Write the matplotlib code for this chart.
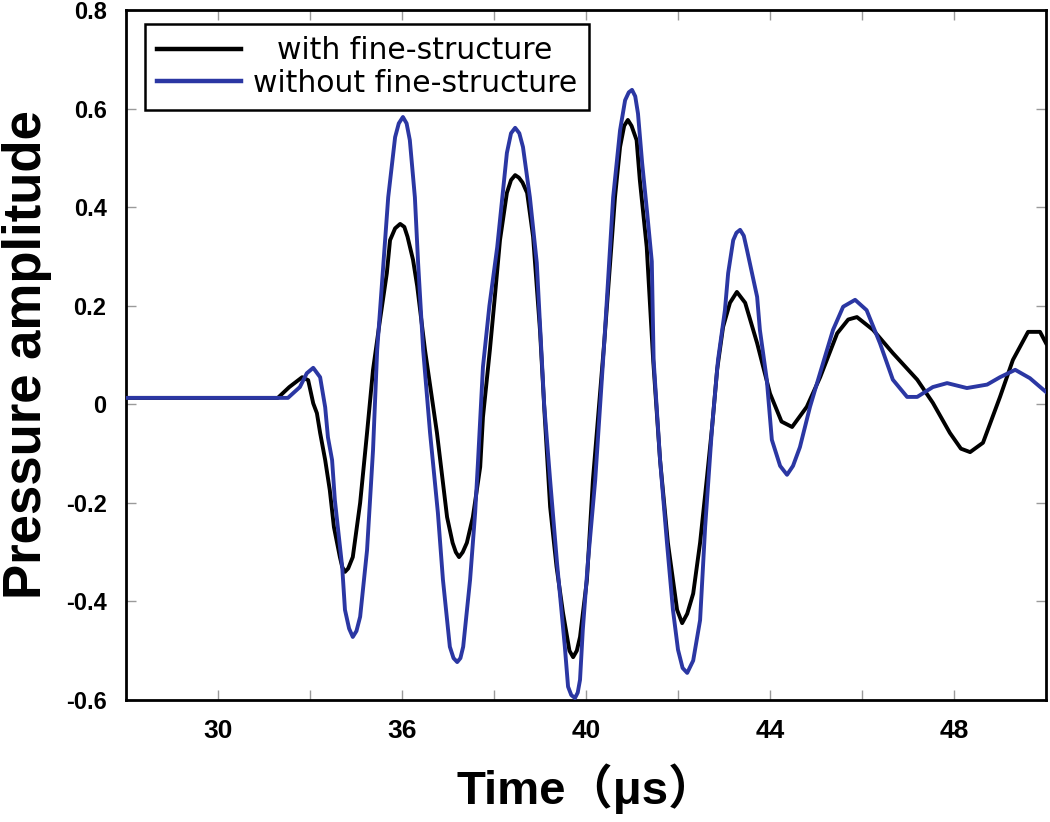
import matplotlib
matplotlib.use("Agg")
import matplotlib.pyplot as plt

# ---- data ----
t_with = [30.0, 33.3, 33.55, 33.83, 33.96, 34.07, 34.15, 34.22, 34.33, 34.43, 34.52, 34.65, 34.7,
          34.76, 34.83, 34.93, 35.09, 35.24, 35.37, 35.52, 35.67, 35.74, 35.85, 35.96, 36.05,
          36.12, 36.24, 36.33, 36.5, 36.76, 36.98, 37.1, 37.17, 37.24, 37.32, 37.41, 37.54, 37.7,
          37.76, 37.91, 38.02, 38.13, 38.28, 38.37, 38.46, 38.54, 38.62, 38.72, 38.85, 39.0,
          39.1, 39.22, 39.36, 39.5, 39.64, 39.72, 39.8, 39.87, 40.02, 40.15, 40.4, 40.63, 40.74,
          40.83, 40.91, 40.99, 41.1, 41.17, 41.32, 41.46, 41.61, 41.78, 41.98, 42.09, 42.2,
          42.33, 42.48, 42.63, 42.74, 42.85, 42.98, 43.13, 43.28, 43.46, 43.72, 44.0, 44.25,
          44.48, 44.8, 45.09, 45.46, 45.7, 45.89, 46.24, 46.67, 47.2, 47.54, 47.91, 48.15,
          48.35, 48.63, 49.0, 49.28, 49.61, 49.87, 50.0]
p_with = [0.013, 0.013, 0.035, 0.055, 0.049, 0.002, -0.018, -0.058, -0.113, -0.174, -0.249, -0.31, -0.33,
          -0.34, -0.333, -0.31, -0.2, -0.058, 0.07, 0.17, 0.266, 0.333, 0.357, 0.366, 0.36,
          0.34, 0.293, 0.24, 0.11, -0.058, -0.229, -0.281, -0.30, -0.31, -0.30, -0.281, -0.229, -0.127,
          -0.026, 0.11, 0.22, 0.333, 0.429, 0.455, 0.465, 0.46, 0.45, 0.429, 0.34, 0.15,
          -0.02, -0.208, -0.33, -0.423, -0.5, -0.513, -0.5, -0.472, -0.356, -0.154, 0.13, 0.42, 0.522,
          0.565, 0.577, 0.565, 0.536, 0.455, 0.319, 0.09, -0.113, -0.281, -0.417, -0.444, -0.425,
          -0.384, -0.281, -0.148, -0.047, 0.07, 0.157, 0.206, 0.228, 0.206, 0.124, 0.022, -0.035,
          -0.046, -0.005, 0.055, 0.144, 0.172, 0.177, 0.151, 0.104, 0.05, 0.003, -0.058, -0.09,
          -0.097, -0.078, 0.015, 0.09, 0.147, 0.147, 0.124]

t_without = [30.0, 33.52, 33.78, 33.93, 34.07, 34.22, 34.33, 34.39, 34.48, 34.54, 34.7, 34.76,
             34.85, 34.93, 35.01, 35.09, 35.24, 35.37, 35.46, 35.7, 35.85, 35.93, 36.02, 36.1,
             36.17, 36.28, 36.35, 36.46, 36.61, 36.78, 36.89, 37.04, 37.12, 37.2, 37.27, 37.33,
             37.48, 37.59, 37.65, 37.76, 37.9, 38.07, 38.28, 38.37, 38.46, 38.55, 38.63, 38.78,
             38.93, 39.09, 39.22, 39.37, 39.54, 39.61, 39.68, 39.76, 39.82, 39.87, 39.93, 40.04,
             40.2, 40.4, 40.59, 40.74, 40.85, 40.93, 41.0, 41.07, 41.13, 41.22, 41.33, 41.43,
             41.47, 41.61, 41.76, 41.89, 42.0, 42.1, 42.2, 42.33, 42.48, 42.59, 42.74, 42.87,
             43.02, 43.09, 43.2, 43.27, 43.35, 43.43, 43.5, 43.72, 43.78, 43.93, 44.04, 44.22,
             44.37, 44.5, 44.65, 44.87, 45.09, 45.37, 45.59, 45.85, 46.1, 46.39, 46.67, 46.98,
             47.2, 47.54, 47.85, 48.28, 48.72, 49.0, 49.33, 49.65, 50.0]
p_without = [0.013, 0.013, 0.035, 0.063, 0.074, 0.055, -0.006, -0.067, -0.113, -0.194, -0.33, -0.417,
             -0.455, -0.472, -0.46, -0.431, -0.296, -0.093, 0.11, 0.42, 0.542, 0.57, 0.583, 0.57,
             0.536, 0.42, 0.287, 0.11, -0.058, -0.22, -0.356, -0.492, -0.515, -0.523, -0.515, -0.492,
             -0.356, -0.22, -0.12, 0.076, 0.2, 0.319, 0.51, 0.55, 0.561, 0.55, 0.522, 0.42,
             0.287, 0.0, -0.154, -0.322, -0.492, -0.573, -0.59, -0.596, -0.585, -0.559, -0.458, -0.322,
             -0.154, 0.13, 0.42, 0.556, 0.617, 0.633, 0.638, 0.625, 0.59, 0.49, 0.388, 0.29,
             0.09, -0.113, -0.281, -0.417, -0.498, -0.535, -0.545, -0.52, -0.438, -0.249, -0.047, 0.09,
             0.191, 0.266, 0.333, 0.348, 0.354, 0.342, 0.313, 0.218, 0.151, 0.05, -0.072, -0.125,
             -0.143, -0.125, -0.087, -0.005, 0.064, 0.151, 0.198, 0.212, 0.191, 0.124, 0.05, 0.015,
             0.015, 0.035, 0.043, 0.033, 0.04, 0.055, 0.07, 0.053, 0.025]

series_labels = ["with fine-structure", "without fine-structure"]
x_major = [32, 36, 40, 44, 48]
x_major_labels = ["30", "36", "40", "44", "48"]
x_minor = [34, 38, 42, 46]
y_ticks = [0.8, 0.6, 0.4, 0.2, 0.0, -0.2, -0.4, -0.6]
y_tick_labels = ["0.8", "0.6", "0.4", "0.2", "0", "-0.2", "-0.4", "-0.6"]

plt.rcParams['font.family'] = ['Liberation Sans', 'Noto Sans CJK SC', 'DejaVu Sans']

fig = plt.figure(figsize=(10.5, 8.22), dpi=100)
ax = fig.add_axes([0.12, 0.1484, 0.8762, 0.8394])

ax.plot(t_with, p_with, color='black', lw=2.8, label=series_labels[0], zorder=3)
ax.plot(t_without, p_without, color='#2b37a3', lw=2.8, label=series_labels[1], zorder=4)

ax.set_xlim(30, 50)
ax.set_ylim(-0.6, 0.8)

ax.set_xticks(x_major)
ax.set_xticklabels(x_major_labels, fontsize=19, fontweight='bold')
ax.set_xticks(x_minor, minor=True)
ax.set_yticks(y_ticks)
ax.set_yticklabels(y_tick_labels, fontsize=17, fontweight='bold')

ax.tick_params(axis='both', which='both', direction='in', length=7, width=1,
               color='#9a9a9a', top=True, right=True)
ax.tick_params(axis='x', which='major', pad=14)
ax.tick_params(axis='y', which='major', pad=14)

for s in ax.spines.values():
    s.set_linewidth(2.0)
    s.set_color('black')

ax.set_xlabel("Time\uff08\u03bcs\uff09", fontsize=34, fontweight='bold', labelpad=14)
ax.set_ylabel("Pressure amplitude", fontsize=38, fontweight='bold', labelpad=10)

leg = ax.legend(loc='upper left', bbox_to_anchor=(0.0207, 0.9797), borderaxespad=0,
                prop={'family': 'DejaVu Sans', 'size': 21.5},
                frameon=True, fancybox=False, framealpha=1.0, handlelength=2.8,
                handletextpad=0.4, borderpad=0.4, labelspacing=0.12)
leg.get_frame().set_edgecolor('black')
leg.get_frame().set_linewidth(1.8)
for ln in leg.get_lines():
    ln.set_linewidth(3.2)

fig.canvas.draw()
texts = leg.get_texts()
w0 = texts[0].get_window_extent().width
w1 = texts[1].get_window_extent().width
texts[0].set_x((w1 - w0) / 2.0)

fig.savefig("out.png", dpi=100)
